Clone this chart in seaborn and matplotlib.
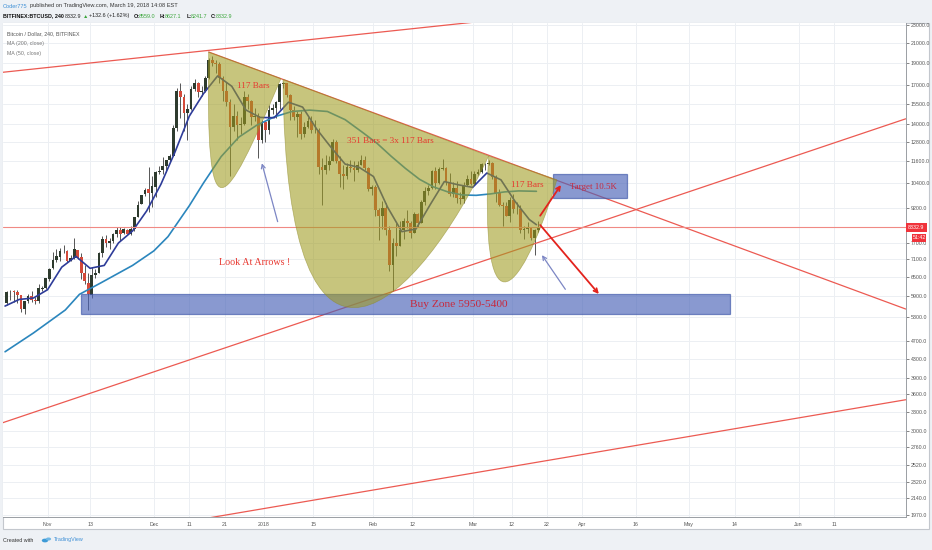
import matplotlib
matplotlib.use('Agg')
import matplotlib.pyplot as plt
import matplotlib.dates as mdates
from matplotlib.patches import Rectangle, PathPatch, Circle
from matplotlib.path import Path
from matplotlib.ticker import FixedLocator, NullLocator, FuncFormatter
import numpy as np
import pandas as pd
import seaborn as sns

# daily candles, Oct 20 2017 .. Mar 19 2018
days = pd.date_range('2017-10-20', '2018-03-19', freq='D')
opens = [
    5708, 6006, 6036, 6006, 5935, 5524, 5747, 5904, 5788, 5754, 6114, 6132,
    6440, 6777, 7087, 7164, 7404, 7403, 7023, 7141, 7446, 7173, 6618, 6295, 5938, 6561, 6634,
    7323, 7853, 7697, 7766, 8039, 8205, 8077, 8233, 8074, 8241, 8789, 9353, 9823, 10077, 9907,
    10198, 10978, 11082, 11315, 11685, 11923, 13700, 16500, 16000, 14800, 15100, 16700, 17200,
    16400, 16500, 17600, 19300, 19000, 18900, 17600, 16500, 15600, 13800, 14600, 13900, 14000,
    16000, 15700, 14500, 14600, 12900,
    14100, 13600, 15000, 15200, 15600, 17100, 17200, 16200, 15000, 14500, 14700, 13300, 13800,
    14200, 13600, 13600, 11300, 11100, 11400, 11600, 12800, 11600, 10900, 10800, 11300, 11200,
    11100, 11400, 11700, 11200, 10100,
    10200, 9100, 8800, 9200, 8200, 6900, 7700, 7600, 8200, 8600, 8500, 8100, 8900, 8500, 9450,
    10000, 10150, 11050, 10400, 11150, 11200, 10450, 9850, 10150, 9650, 9600, 10300, 10600,
    10350, 10900, 11000, 11450, 11450, 11500, 10700, 9900, 9300, 9250, 8800, 9550, 9150, 9150,
    8200, 8250, 8300, 7900, 8200,
]
highs = [
    6060, 6075, 6077, 6075, 5935, 5754, 5971, 6063, 5876, 6255, 6214, 6470,
    6800, 7367, 7461, 7492, 7617, 7445, 7253, 7880, 7446, 7312, 6885, 6625, 6811, 6764, 7342,
    7967, 8004, 7884, 8101, 8336, 8348, 8302, 8267, 8374, 8790, 9522, 9818, 10125, 11300, 10801,
    11046, 11320, 11858, 11658, 12033, 13900, 16800, 17170, 16300, 15500, 16900, 17500, 17300,
    16900, 17800, 19500, 19700, 19300, 19100, 17800, 17300, 15900, 15500, 14900, 14500, 16500,
    16300, 15800, 15200, 14800, 14300,
    14200, 15400, 15500, 15700, 17200, 17250, 17200, 16300, 15300, 14900, 14900, 14100, 14500,
    14600, 14300, 13700, 11800, 12000, 11900, 12950, 12900, 11900, 11400, 11500, 11700, 11600,
    11600, 12000, 11900, 11300, 10300,
    10300, 9200, 9500, 9400, 8400, 7900, 8500, 8600, 8750, 9100, 8600, 9000, 8950, 9550, 10200,
    10300, 11100, 11250, 11250, 11750, 11300, 10950, 10450, 10500, 9950, 10450, 10850, 11050,
    11050, 11150, 11500, 11500, 11650, 11550, 10850, 10100, 9450, 9450, 9700, 9850, 9450, 9300,
    8400, 8550, 8350, 8250, 8600,
]
lows = [
    5627, 5778, 5725, 5688, 5450, 5382, 5700, 5730, 5676, 5684, 6040, 6103,
    6377, 6758, 7002, 7031, 7333, 7007, 7023, 7114, 7101, 6436, 6281, 5500, 5845, 6461, 6634,
    7176, 7561, 7463, 7694, 7949, 7762, 8075, 8038, 8000, 8191, 8775, 9353, 9736, 9000, 9202,
    9694, 10906, 10863, 11015, 11577, 11900, 13500, 14400, 13500, 12900, 15000, 16500, 16000,
    16100, 16400, 17500, 18700, 18100, 17200, 15700, 15300, 10800, 13500, 12900, 13300, 13900,
    15100, 13900, 14200, 11800, 12700,
    12800, 13300, 14700, 14400, 15100, 16800, 16000, 14300, 14300, 13100, 13000, 13100, 13700,
    13400, 13400, 10900, 9300, 10900, 11100, 11600, 11500, 10200, 10100, 10600, 11000, 10500,
    11000, 11400, 11100, 10000, 9800,
    8800, 7800, 8250, 8000, 6700, 6050, 7200, 7600, 7850, 8300, 7900, 8100, 8350, 8500, 9300,
    9800, 10100, 10100, 10350, 11100, 10300, 9750, 9700, 9400, 9350, 9400, 10250, 10300,
    10300, 10850, 10950, 11100, 11400, 10600, 9450, 9250, 8400, 8800, 8550, 8950, 8900, 8100,
    7850, 8100, 7800, 7250, 8150,
]
closes = [
    6006, 6031, 6008, 5930, 5526, 5750, 5904, 5780, 5753, 6153, 6130, 6468,
    6767, 7078, 7207, 7379, 7407, 7022, 7144, 7459, 7143, 6618, 6357, 5950, 6559, 6635, 7315,
    7871, 7708, 7790, 8036, 8200, 8071, 8254, 8038, 8254, 8790, 9330, 9818, 10058, 9888, 10233,
    10975, 11074, 11323, 11657, 11916, 13700, 16500, 16000, 14800, 15100, 16700, 17200, 16400,
    16500, 17600, 19300, 19000, 18900, 17600, 16500, 15600, 13800, 14600, 13900, 14000, 16000,
    15700, 14500, 14600, 12900, 14100,
    13600, 15000, 15200, 15600, 17100, 17200, 16200, 15000, 14500, 14700, 13300, 13800, 14200,
    13600, 13600, 11300, 11100, 11400, 11600, 12800, 11600, 10900, 10800, 11300, 11200, 11100,
    11400, 11700, 11200, 10100, 10200,
    9100, 8800, 9200, 8200, 6900, 7700, 7600, 8200, 8600, 8500, 8100, 8900, 8500, 9450, 10000,
    10150, 11050, 10400, 11150, 11200, 10450, 9850, 10150, 9650, 9600, 10300, 10600, 10350,
    10900, 11000, 11450, 11450, 11500, 10700, 9900, 9300, 9250, 8800, 9550, 9150, 9150, 8200,
    8250, 8300, 7900, 8200, 8332.9,
]

# moving averages
ma200_dates = ['2017-10-20', '2017-10-28', '2017-11-06', '2017-11-10', '2017-11-16', '2017-11-25',
               '2017-12-01', '2017-12-05', '2017-12-11', '2017-12-15', '2017-12-20', '2017-12-25',
               '2017-12-30', '2018-01-04', '2018-01-09', '2018-01-14', '2018-01-19', '2018-01-24',
               '2018-01-29', '2018-02-02', '2018-02-06', '2018-02-10', '2018-02-14', '2018-02-18',
               '2018-02-22', '2018-02-26', '2018-03-02', '2018-03-06', '2018-03-10', '2018-03-14',
               '2018-03-19']
ma200_vals = [4460, 4900, 5500, 5950, 6300, 6880, 7400, 7950, 9280, 10400, 11880, 13100,
              13900, 14500, 14900, 15000, 14900, 14300, 13400, 12700, 11900, 11200, 10600, 10200,
              9950, 9800, 9780, 9850, 9950, 10000, 9980]
ma50_dates = ['2017-10-20', '2017-10-24', '2017-10-28', '2017-11-01', '2017-11-05', '2017-11-09',
              '2017-11-13', '2017-11-17', '2017-11-21', '2017-11-25', '2017-11-29', '2017-12-03',
              '2017-12-07', '2017-12-11', '2017-12-15', '2017-12-19', '2017-12-23', '2017-12-27',
              '2017-12-31', '2018-01-04', '2018-01-08', '2018-01-12', '2018-01-16', '2018-01-20',
              '2018-01-24', '2018-01-28', '2018-02-01', '2018-02-05', '2018-02-09', '2018-02-13',
              '2018-02-17', '2018-02-21', '2018-02-25', '2018-03-01', '2018-03-05', '2018-03-09',
              '2018-03-13', '2018-03-17', '2018-03-19']
ma50_vals = [5610, 5800, 5840, 6090, 6820, 7200, 6780, 6880, 7700, 8180, 9050, 10340,
             12170, 14550, 16290, 17810, 16910, 15010, 14460, 14440, 15610, 15230, 13630, 12450,
             11440, 11250, 10750, 9210, 8150, 8260, 9330, 10480, 10310, 10180, 10940, 10570,
             9480, 8660, 8440]

last_price = 8332.9
price_ticks = [23000, 21000, 19000, 17000, 15500, 14000, 12800, 11600, 10400, 9200, 7700, 7100,
               6500, 5900, 5300, 4700, 4300, 3900, 3600, 3300, 3000, 2760, 2520, 2320, 2140, 1970]
date_ticks = ['2017-11-01', '2017-11-13', '2017-12-01', '2017-12-11', '2017-12-21', '2018-01-01',
              '2018-01-15', '2018-02-01', '2018-02-12', '2018-03-01', '2018-03-12', '2018-03-22',
              '2018-04-01', '2018-04-16', '2018-05-01', '2018-05-14', '2018-06-01', '2018-06-11']
date_labels = ['Nov', '13', 'Dec', '11', '21', '2018', '15', 'Feb', '12', 'Mar', '12', '22',
               'Apr', '16', 'May', '14', 'Jun', '11']

W, H = 932, 550


def px(x):
    return x / W


def py(y):
    return 1 - y / H


def dn(s):
    return mdates.datestr2num(s)


sns.set_style('white')
plt.rcParams['font.family'] = ['Liberation Sans', 'DejaVu Sans']
SERIF = ['Liberation Serif', 'DejaVu Serif']

fig = plt.figure(figsize=(W / 100, H / 100), dpi=100)
fig.patch.set_facecolor('#eef1f5')
fig.patches.append(Rectangle((px(3), py(529)), px(926), 506 / H, transform=fig.transFigure,
                             facecolor='white', edgecolor='#c3c7cd', lw=0.8, zorder=-1))

ax = fig.add_axes([px(3), py(517), px(903), 494 / H])
ax.set_facecolor('white')
ax.set_yscale('log')
ax.set_ylim(1945.6, 23232)
ax.set_xlim(dn('2017-10-19 10:00'), dn('2018-07-01 08:00'))

# grid + axes
ax.yaxis.set_major_locator(FixedLocator(price_ticks))
ax.yaxis.set_minor_locator(NullLocator())
ax.yaxis.set_major_formatter(FuncFormatter(lambda v, p: f'{v:.1f}'))
ax.yaxis.tick_right()
ax.set_xticks([dn(d) for d in date_ticks])
ax.set_xticklabels(date_labels)
ax.tick_params(axis='both', labelsize=3.8, colors='#555555', length=2, width=0.5, pad=1.5)
ax.grid(True, color='#eceff3', lw=0.7, zorder=0)
ax.set_axisbelow(True)
for side in ['left', 'top']:
    ax.spines[side].set_visible(False)
for side in ['right', 'bottom']:
    ax.spines[side].set_color('#9a9ea4')
    ax.spines[side].set_linewidth(0.7)

# candles
xs = mdates.date2num(days + pd.Timedelta(hours=12))
o, h, l, c = map(np.array, (opens, highs, lows, closes))
up = c >= o
body_col = np.where(up, '#2e3b2e', '#d44a3a')
ax.vlines(xs, l, h, colors='#3a3a3a', lw=0.6, zorder=2)
ax.bar(xs, np.maximum(np.abs(c - o), 1), bottom=np.minimum(o, c), width=0.78,
       color=body_col, lw=0, zorder=2.5)

# moving averages
sns.lineplot(x=[dn(d) for d in ma200_dates], y=ma200_vals, ax=ax, color='#2b86bd', lw=1.2, zorder=3)
sns.lineplot(x=[dn(d) for d in ma50_dates], y=ma50_vals, ax=ax, color='#2e3c99', lw=1.2, zorder=3)

# trend lines
red = '#ec5a52'
trend = [
    (('2017-10-19 07:00', 18138), ('2018-03-09 05:00', 23680)),
    (('2017-12-16 11:30', 20083), ('2018-07-01 06:00', 5527)),
    (('2017-10-19 09:00', 3124), ('2018-07-01 06:00', 14361)),
    (('2017-11-30 01:00', 1843), ('2018-07-01 06:00', 3505)),
]
for (d0, p0), (d1, p1) in trend:
    ax.plot([dn(d0), dn(d1)], [p0, p1], color=red, lw=0.9, zorder=4)
ax.axhline(last_price, color='#f08a84', lw=0.8, zorder=4)

# zones
blue_fill = '#4a63b8'
ax.add_patch(Rectangle((dn('2017-11-10 10:00'), 5400), dn('2018-05-12 18:00') - dn('2017-11-10 10:00'),
                       5950 - 5400, facecolor=blue_fill, alpha=0.65, edgecolor='#3c55a8', lw=0.9, zorder=5))
ax.add_patch(Rectangle((dn('2018-03-23 16:00'), 9667), dn('2018-04-13 13:30') - dn('2018-03-23 16:00'),
                       10886 - 9667, facecolor=blue_fill, alpha=0.65, edgecolor='#3c55a8', lw=0.9, zorder=5))

# olive arcs (head & shoulders)
arcs = [
    [('2017-12-16 11:30', 20083), ('2017-12-15 15:00', 7737), ('2017-12-20 11:00', 8862), ('2018-01-05 21:00', 17581)],
    [('2018-01-06 11:00', 17521), ('2018-01-07 07:00', 2864), ('2018-02-14 13:00', 5782), ('2018-03-05 12:00', 11917)],
    [('2018-03-05 12:00', 11917), ('2018-03-03 00:00', 4975), ('2018-03-13 11:00', 5500), ('2018-03-24 19:00', 10576)],
]
for pts in arcs:
    verts = [(dn(d), p) for d, p in pts] + [(dn(pts[0][0]), pts[0][1])]
    codes = [Path.MOVETO, Path.CURVE4, Path.CURVE4, Path.CURVE4, Path.CLOSEPOLY]
    ax.add_patch(PathPatch(Path(verts, codes), facecolor='#a09c20', alpha=0.58,
                           edgecolor='#8f8a2a', lw=0.5, zorder=6))

# arrows
arrows = [
    (('2018-03-20 01:30', 8830), ('2018-03-25 22:20', 10301), '#e3231d', 1.3),
    (('2018-03-20 01:30', 8427), ('2018-04-05 15:00', 5960), '#e3231d', 1.3),
    (('2018-01-04 22:50', 8570), ('2017-12-31 12:00', 11489), '#7c86c4', 0.9),
    (('2018-03-27 04:00', 6102), ('2018-03-20 13:30', 7244), '#7c86c4', 0.9),
]
for (d0, p0), (d1, p1), col, lw in arrows:
    ax.annotate('', xy=(dn(d1), p1), xytext=(dn(d0), p0), zorder=7,
                arrowprops=dict(arrowstyle='->', color=col, lw=lw, shrinkA=0, shrinkB=0, mutation_scale=7))

# labels on the chart
txt_red = '#e8372f'
notes = [
    ('117 Bars', '2017-12-29 02:00', 16958, 6.6, txt_red),
    ('351 Bars = 3x 117 Bars', '2018-02-05 20:40', 12865, 6.6, txt_red),
    ('117 Bars', '2018-03-16 12:00', 10301, 6.6, txt_red),
    ('Look At Arrows !', '2017-12-29 12:00', 6976, 7.2, txt_red),
    ('Target 10.5K', '2018-04-04 02:00', 10185, 6.4, '#c8283c'),
    ('Buy Zone 5950-5400', '2018-02-25 04:20', 5668, 8.2, '#c8283c'),
]
for s, d, p, fs, col in notes:
    ax.text(dn(d), p, s, ha='center', va='center', fontsize=fs, color=col, family=SERIF, zorder=8)

# legend block
for i, s in enumerate(['Bitcoin / Dollar, 240, BITFINEX', 'MA (200, close)', 'MA (50, close)']):
    fig.text(px(6.7), py(33.3 + 10 * i), s, fontsize=3.8, color='#555555' if i == 0 else '#777777',
             va='center', ha='left')

# header
fig.text(px(2.7), py(6), 'Coder775', fontsize=4.1, color='#3d8fd6', va='center')
fig.text(px(29.5), py(6), 'published on TradingView.com, March 19, 2018 14:08 EST', fontsize=4.1,
         color='#333333', va='center')
green = '#3aa53a'
header2 = [
    (2.7, 'BITFINEX:BTCUSD, 240', '#111111', 'bold'),
    (64.3, '8332.9', '#222222', 'normal'),
    (83.3, '\u25b2', green, 'normal'),
    (88.7, '+132.6 (+1.62%)', '#222222', 'normal'),
    (133.3, 'O:', '#111111', 'bold'), (138.3, '8559.0', green, 'normal'),
    (159.3, 'H:', '#111111', 'bold'), (164.7, '8627.1', green, 'normal'),
    (186.7, 'L:', '#111111', 'bold'), (190.5, '8241.7', green, 'normal'),
    (211, 'C:', '#111111', 'bold'), (216, '8332.9', green, 'normal'),
]
for x, s, col, wt in header2:
    fig.text(px(x), py(16), s, fontsize=3.9, color=col, fontweight=wt, va='center')

# price tags on the right axis
fig.patches.append(Rectangle((px(906), py(232)), px(20.5), 8.5 / H, transform=fig.transFigure,
                             facecolor='#f0333b', edgecolor='none', zorder=10))
fig.text(px(916.2), py(227.8), '8332.9', fontsize=3.8, color='white', ha='center', va='center', zorder=11)
fig.patches.append(Rectangle((px(912), py(241.5)), px(14), 8 / H, transform=fig.transFigure,
                             facecolor='#f0333b', edgecolor='none', zorder=10))
fig.text(px(919), py(237.5), '51:42', fontsize=3.8, color='white', ha='center', va='center', zorder=11)

# footer
fig.text(px(3), py(540), 'Created with', fontsize=3.9, color='#333333', va='center')
fig.patches.append(Circle((px(45), py(540.5)), 3.2 / W, transform=fig.transFigure,
                          facecolor='#3d9ad6', edgecolor='none'))
fig.patches.append(Circle((px(48.5), py(539)), 2.6 / W, transform=fig.transFigure,
                          facecolor='#6fb8e6', edgecolor='none'))
fig.text(px(53.5), py(540), 'TradingView', fontsize=3.9, color='#3d8fd6', va='center')

fig.savefig('out.png', dpi=100, facecolor=fig.get_facecolor())
